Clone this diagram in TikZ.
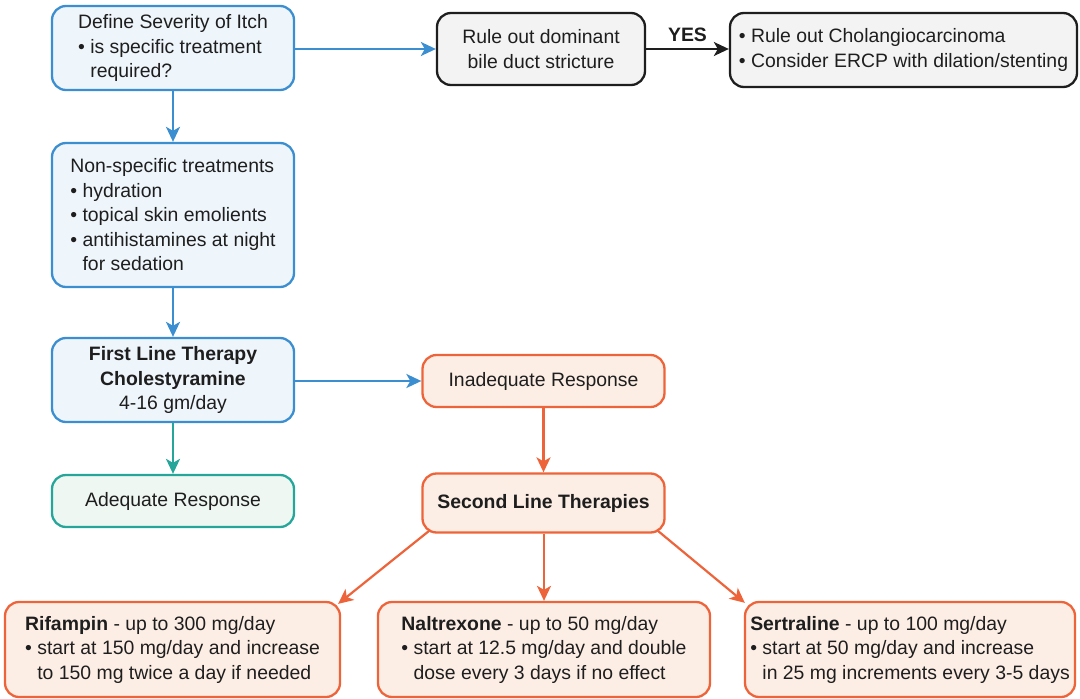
\documentclass[tikz,border=0pt]{standalone}
\usepackage{fontspec}
\setmainfont{Liberation Sans}
\usetikzlibrary{arrows.meta,calc}
\definecolor{bdraw}{RGB}{59,142,208}
\definecolor{bfill}{RGB}{238,245,251}
\definecolor{kdraw}{RGB}{30,30,30}
\definecolor{kfill}{RGB}{243,243,243}
\definecolor{tdraw}{RGB}{38,166,154}
\definecolor{tfill}{RGB}{238,247,242}
\definecolor{odraw}{RGB}{238,100,58}
\definecolor{ofill}{RGB}{253,238,229}
\definecolor{txt}{RGB}{30,30,30}
\tikzset{
  basebox/.style={rectangle, rounded corners=14pt, line width=2.3pt, text=txt,
    inner sep=0pt, font=\fontsize{19.4}{24.5}\selectfont},
  bluebox/.style={basebox, draw=bdraw, fill=bfill},
  blackbox/.style={basebox, draw=kdraw, fill=kfill},
  tealbox/.style={basebox, draw=tdraw, fill=tfill},
  orangebox/.style={basebox, draw=odraw, fill=ofill},
  conn/.style={line width=2.2pt, -{Stealth[length=15pt,width=14pt,inset=4pt]}},
}
\newcommand{\hang}{\phantom{• }}
\begin{document}
\begin{tikzpicture}[x=1pt,y=-1pt]
\useasboundingbox (0,0) rectangle (1080,699);
% top row
\node[bluebox, minimum width=242pt, minimum height=84pt, align=left] (def) at (173,48)
  {Define Severity of Itch\\• is specific treatment\\\hang required?};
\node[blackbox, minimum width=208pt, minimum height=72pt, align=center] (rule) at (541,49)
  {Rule out dominant\\bile duct stricture};
\node[blackbox, minimum width=347pt, minimum height=74pt, align=left] (chol) at (903.5,50)
  {• Rule out Cholangiocarcinoma\\• Consider ERCP with dilation/stenting};
% left column
\node[bluebox, minimum width=242pt, minimum height=144pt, align=left] (nons) at (173,215)
  {Non-specific treatments\\• hydration\\• topical skin emolients\\• antihistamines at night\\\hang for sedation};
\node[bluebox, minimum width=242pt, minimum height=84pt, align=center] (first) at (173,380)
  {\textbf{First Line Therapy}\\\textbf{Cholestyramine}\\4-16 gm/day};
\node[tealbox, minimum width=242pt, minimum height=52pt] (adeq) at (173,501)
  {Adequate Response};
% middle column
\node[orangebox, minimum width=242pt, minimum height=52pt] (inad) at (543.5,381)
  {Inadequate Response};
\node[orangebox, minimum width=242pt, minimum height=59pt] (sec) at (543.5,503)
  {\textbf{Second Line Therapies}};
% bottom row
\node[orangebox, minimum width=335pt, minimum height=95pt, align=left] (rif) at (172.5,649.5)
  {\textbf{Rifampin} - up to 300 mg/day\\• start at 150 mg/day and increase\\\hang to 150 mg twice a day if needed};
\node[orangebox, minimum width=332pt, minimum height=95pt, align=left] (nal) at (544,649.5)
  {\textbf{Naltrexone} - up to 50 mg/day\\• start at 12.5 mg/day and double\\\hang dose every 3 days if no effect};
\node[orangebox, minimum width=330pt, minimum height=95pt, align=left] (ser) at (910,649.5)
  {\textbf{Sertraline} - up to 100 mg/day\\• start at 50 mg/day and increase\\\hang in 25 mg increments every 3-5 days};
% connectors
\draw[conn, bdraw] (rule.west -| def.east) -- (rule.west);
\draw[conn, kdraw] (rule.east) -- node[above=3pt, font=\fontsize{19.4}{24}\selectfont\bfseries, text=txt] (yes) {YES} (rule.east -| chol.west);
\draw[conn, bdraw] (def.south) -- (nons.north);
\draw[conn, bdraw] (nons.south) -- (first.north);
\draw[conn, bdraw] (inad.west -| first.east) -- (inad.west);
\draw[conn, tdraw] (first.south) -- (adeq.north);
\draw[conn, odraw] (inad.south) -- (inad.south |- sec.north);
\draw[conn, odraw] ($(sec.south west)+(8,-3)$) -- ($(rif.north east)+(-3,3)$);
\draw[conn, odraw] (sec.south -| nal.north) -- (nal.north);
\draw[conn, odraw] ($(sec.south east)+(-8,-3)$) -- ($(ser.north west)+(1,2)$);
\end{tikzpicture}
\end{document}
